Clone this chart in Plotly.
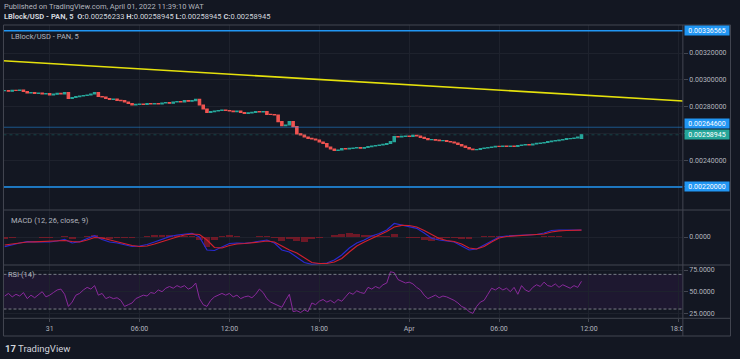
import plotly.graph_objects as go
import pandas as pd

W, H = 740, 359

# ---------------- data ----------------
close = [
    0.0029187, 0.0029149, 0.0029216, 0.0029201, 0.0029239, 0.0029127, 0.0029015, 0.0029052, 0.0028993, 0.0029015,
    0.0028940, 0.0028978, 0.0028866, 0.0028925, 0.0028993, 0.0028955, 0.0029037, 0.0028619, 0.0028679, 0.0028739,
    0.0028791, 0.0028828, 0.0028866, 0.0028940, 0.0029037, 0.0028754, 0.0028716, 0.0028604, 0.0028545, 0.0028567,
    0.0028470, 0.0028440, 0.0028343, 0.0028231, 0.0028119, 0.0028172, 0.0028194, 0.0028157, 0.0028216, 0.0028194,
    0.0028231, 0.0028194, 0.0028269, 0.0028291, 0.0028254, 0.0028343, 0.0028366, 0.0028343, 0.0028440, 0.0028403,
    0.0028440, 0.0028545, 0.0028119, 0.0027821, 0.0027560, 0.0027619, 0.0027672, 0.0027709, 0.0027746, 0.0027709,
    0.0027672, 0.0027619, 0.0027657, 0.0027560, 0.0027500, 0.0027537, 0.0027575, 0.0027634, 0.0027597, 0.0027619,
    0.0027425, 0.0027410, 0.0027373, 0.0026873, 0.0026575, 0.0026627, 0.0026873, 0.0026500, 0.0025970, 0.0025880,
    0.0025731, 0.0025634, 0.0025582, 0.0025507, 0.0025358, 0.0025246, 0.0024985, 0.0024836, 0.0024724, 0.0024761,
    0.0024873, 0.0024836, 0.0024888, 0.0024910, 0.0024933, 0.0024895, 0.0024948, 0.0025007, 0.0025060, 0.0025097,
    0.0025134, 0.0025186, 0.0025246, 0.0025380, 0.0025769, 0.0025746, 0.0025783, 0.0025806, 0.0025783, 0.0025858,
    0.0025806, 0.0025709, 0.0025619, 0.0025530, 0.0025545, 0.0025492, 0.0025455, 0.0025470, 0.0025395, 0.0025358,
    0.0025283, 0.0025171, 0.0025060, 0.0024948, 0.0024836, 0.0024783, 0.0024798, 0.0024873, 0.0024910, 0.0024948,
    0.0024985, 0.0025037, 0.0025022, 0.0025060, 0.0025022, 0.0025060, 0.0025037, 0.0025097, 0.0025134, 0.0025157,
    0.0025134, 0.0025209, 0.0025261, 0.0025283, 0.0025321, 0.0025380, 0.0025433, 0.0025455, 0.0025507, 0.0025545,
    0.0025604, 0.0025619, 0.0025657, 0.0025731, 0.00258945,
]
last_open = 0.00256233
last_close = 0.00258945

rsi = [
    45, 48, 44, 47, 45, 49, 42, 46, 43, 47,
    50, 44, 46, 49, 52, 53, 47, 33, 38, 46,
    48, 52, 55, 53, 57, 46, 48, 42, 44, 42,
    43, 40, 33, 35, 37, 42, 44, 46, 45, 49,
    48, 52, 50, 54, 56, 54, 57, 55, 57, 53,
    55, 60, 42, 35, 33, 40, 44, 46, 48, 46,
    48, 44, 46, 42, 44, 45, 43, 47, 53, 49,
    42, 38, 36, 34, 32, 40, 47, 27, 28, 26,
    29, 27, 37, 35, 39, 41, 38, 40, 37, 41,
    39, 44, 49, 47, 51, 49, 48, 55, 53, 56,
    54, 58, 60, 73, 72, 64, 62, 60, 61, 59,
    55, 52, 46, 42, 44, 46, 43, 45, 44, 42,
    40, 37, 33, 31, 27, 25, 33, 38, 40, 47,
    54, 52, 55, 52, 54, 50, 55, 47, 57, 52,
    50, 55, 58, 56, 61, 57, 56, 59, 55, 58,
    56, 54, 57, 55, 62,
]

macd = [
    -9.7e-6, -7.5e-6, -6.0e-6, -4.7e-6, -5.0e-6, -5.3e-6, -5.0e-6, -4.0e-6, -2.5e-6, -6.0e-6,
    -4.7e-6, -1.5e-6, 1.3e-6, -2.5e-6, -5.0e-6, -6.0e-6, -7.5e-6, -9.5e-6, -9.0e-6, -7.5e-6,
    -5.0e-6, -2.5e-6, 0.3e-6, 2.0e-6, 3.0e-6, 3.7e-6, 0.0, -13.0e-6, -13.5e-6, -10.0e-6,
    -6.5e-6, -6.0e-6, -6.3e-6, -5.5e-6, -4.0e-6, -3.0e-6, -6.0e-6, -13.0e-6, -15.0e-6, -20.0e-6,
    -25.5e-6, -27.3e-6, -27.0e-6, -26.0e-6, -23.0e-6, -18.0e-6, -11.0e-6, -6.0e-6, -3.0e-6, 1.0e-6,
    3.5e-6, 7.0e-6, 13.5e-6, 12.0e-6, 10.5e-6, 8.7e-6, 4.0e-6, -1.3e-6, -3.0e-6, -4.0e-6,
    -5.0e-6, -9.0e-6, -13.0e-6, -12.0e-6, -8.0e-6, -4.0e-6, 0.0, 1.0e-6, 1.3e-6, 1.5e-6,
    2.0e-6, 2.5e-6, 4.0e-6, 6.5e-6, 7.0e-6, 7.0e-6, 7.0e-6, 7.0e-6,
]
signal = [
    -8.0e-6, -7.0e-6, -6.0e-6, -5.0e-6, -4.8e-6, -4.5e-6, -4.5e-6, -4.2e-6, -3.5e-6, -4.5e-6,
    -5.0e-6, -3.0e-6, -0.5e-6, -1.0e-6, -3.0e-6, -5.0e-6, -6.5e-6, -8.5e-6, -9.5e-6, -9.0e-6,
    -7.0e-6, -4.5e-6, -2.0e-6, 0.0, 2.0e-6, 3.0e-6, 2.5e-6, -3.0e-6, -10.5e-6, -11.0e-6,
    -8.5e-6, -7.0e-6, -6.5e-6, -6.0e-6, -5.0e-6, -4.0e-6, -5.0e-6, -9.0e-6, -13.0e-6, -16.0e-6,
    -21.0e-6, -25.5e-6, -26.5e-6, -26.5e-6, -25.0e-6, -21.5e-6, -15.0e-6, -9.0e-6, -5.0e-6, -1.5e-6,
    2.0e-6, 5.5e-6, 10.0e-6, 11.7e-6, 11.5e-6, 10.0e-6, 6.5e-6, 2.5e-6, -1.5e-6, -3.5e-6,
    -4.5e-6, -7.0e-6, -11.0e-6, -12.0e-6, -9.5e-6, -5.0e-6, -1.0e-6, 0.5e-6, 1.0e-6, 1.2e-6,
    1.5e-6, 2.0e-6, 3.0e-6, 5.0e-6, 6.2e-6, 6.5e-6, 6.7e-6, 6.8e-6,
]

levels_blue = [0.00336565, 0.00220000]
level_mid = 0.00264600
trend_t = ["2022-03-30 20:00", "2022-04-01 20:00"]
trend_p = [0.0031484, 0.0028302]

price_ticks = [0.0022, 0.0024, 0.0026, 0.0028, 0.0030, 0.0032]
time_ticks = ["2022-03-31 00:00", "2022-03-31 06:00", "2022-03-31 12:00", "2022-03-31 18:00",
              "2022-04-01 00:00", "2022-04-01 06:00", "2022-04-01 12:00", "2022-04-01 18:00"]
time_labels = ["31", "06:00", "12:00", "18:00", "Apr", "06:00", "12:00", "18:00"]

# ---------------- derived ----------------
t_price = pd.date_range("2022-03-30 21:00", periods=len(close), freq="15min")
t_macd = pd.date_range("2022-03-30 21:00", periods=len(macd), freq="30min")
opens = [close[0]] + close[:-1]
opens[-1] = last_open
highs = [max(o, c) for o, c in zip(opens, close)]
lows = [min(o, c) for o, c in zip(opens, close)]
hist = [m - s for m, s in zip(macd, signal)]

# ---------------- style ----------------
BG = "#131722"
GRID = "#1e222d"
FRAME = "#434651"
TXT = "#b2b5be"
UP = "#26a69a"
DOWN = "#ef5350"
BLUE = "#2196f3"
FONT = "Roboto"

def px(x):
    return x / W

def py(y):
    return 1 - y / H

XL, XR = 3.5, 687.5
xdom = [px(XL), px(XR)]
y1 = [py(210), py(25)]
y2 = [py(265), py(210)]
y3 = [py(318.3), py(265)]
xrange_ = ["2022-03-30 20:55", "2022-04-01 18:16"]

fig = go.Figure()
fig.add_trace(go.Candlestick(
    x=t_price, open=opens, high=highs, low=lows, close=close,
    increasing=dict(line=dict(color=UP, width=1.2), fillcolor=UP),
    decreasing=dict(line=dict(color=DOWN, width=1.2), fillcolor=DOWN),
    xaxis="x", yaxis="y", hoverinfo="skip", showlegend=False))
fig.add_trace(go.Scatter(x=trend_t, y=trend_p, mode="lines",
                         line=dict(color="#e5e10c", width=1.6),
                         xaxis="x", yaxis="y", hoverinfo="skip", showlegend=False))

fig.add_trace(go.Bar(x=t_macd, y=hist, width=27 * 60 * 1000,
                     marker=dict(color="rgba(150,25,40,0.7)", line=dict(width=0)),
                     xaxis="x2", yaxis="y2", hoverinfo="skip", showlegend=False))
fig.add_trace(go.Scatter(x=t_macd, y=macd, mode="lines", line=dict(color="#2a2ad0", width=1.2),
                         xaxis="x2", yaxis="y2", hoverinfo="skip", showlegend=False))
fig.add_trace(go.Scatter(x=t_macd, y=signal, mode="lines", line=dict(color="#d0202e", width=1.2),
                         xaxis="x2", yaxis="y2", hoverinfo="skip", showlegend=False))

fig.add_trace(go.Scatter(x=t_price, y=rsi, mode="lines", line=dict(color="#8a2a9c", width=1),
                         xaxis="x3", yaxis="y3", hoverinfo="skip", showlegend=False))

xcommon = dict(domain=xdom, range=xrange_, tickvals=time_ticks, showgrid=True, gridcolor=GRID,
               gridwidth=1, zeroline=False, showline=False, type="date")
ycommon = dict(side="right", showgrid=True, gridcolor=GRID, zeroline=False, showline=False,
               ticks="outside", ticklen=4, tickcolor=FRAME,
               tickfont=dict(family=FONT, size=7, color=TXT))

shapes = []
shapes.append(dict(type="rect", xref="paper", yref="y3", x0=px(XL), x1=px(XR), y0=30, y1=70,
                   fillcolor="rgba(126,40,160,0.11)", line=dict(width=0), layer="below"))
for v in (70, 30):
    shapes.append(dict(type="line", xref="paper", yref="y3", x0=px(XL), x1=px(XR), y0=v, y1=v,
                       line=dict(color="#787b86", width=1, dash="3px,2px")))
for v in levels_blue:
    shapes.append(dict(type="line", xref="paper", yref="y", x0=px(XL), x1=px(XR), y0=v, y1=v,
                       line=dict(color=BLUE, width=1.5)))
shapes.append(dict(type="line", xref="paper", yref="y", x0=px(XL), x1=px(XR), y0=level_mid, y1=level_mid,
                   line=dict(color="rgba(33,150,243,0.5)", width=1)))
shapes.append(dict(type="line", xref="paper", yref="y", x0=px(XL), x1=px(XR), y0=last_close, y1=last_close,
                   line=dict(color="rgba(38,166,154,0.3)", width=1, dash="dot")))
shapes.append(dict(type="rect", xref="paper", yref="paper", x0=px(XR), x1=px(736), y0=py(336), y1=py(318.8),
                   fillcolor=BG, line=dict(width=0), layer="above"))
shapes.append(dict(type="rect", xref="paper", yref="paper", x0=px(XL), x1=px(735.5), y0=py(336), y1=py(25),
                   line=dict(color=FRAME, width=1), layer="above"))
for yy in (210, 265, 318.3):
    shapes.append(dict(type="line", xref="paper", yref="paper", x0=px(XL), x1=px(735.5), y0=py(yy), y1=py(yy),
                       line=dict(color=FRAME, width=1), layer="above"))
shapes.append(dict(type="line", xref="paper", yref="paper", x0=px(XR), x1=px(XR), y0=py(336), y1=py(25),
                   line=dict(color=FRAME, width=1), layer="above"))

ann = []
def label(text, x, y, size=7.5, color=TXT):
    ann.append(dict(text=text, xref="paper", yref="paper", x=px(x), y=py(y), xanchor="left",
                    yanchor="middle", showarrow=False, font=dict(family=FONT, size=size, color=color)))

label("Published on TradingView.com, April 01, 2022 11:39:10 WAT", 2.5, 6.5, 7.5, "#b2b5be")
label("<b>LBlock/USD - PAN, 5</b>  <b>O:</b>0.00256233 <b>H:</b>0.00258945 <b>L:</b>0.00258945 "
      "<b>C:</b>0.00258945", 2.5, 17, 7.5, "#d1d4dc")
label("LBlock/USD - PAN, 5", 9, 36, 7.5, TXT)
label("MACD (12, 26, close, 9)", 9, 220.5, 7.5, TXT)
label("RSI (14)", 6.5, 274.5, 7.5, TXT)
label("<b>17</b> TradingView", 3, 348, 9.5, "#d1d4dc")

def pricebox(v, color, yshift=0):
    ann.append(dict(text=f"{v:.8f}", xref="paper", yref="y", x=px(688.5), y=v, xanchor="left",
                    yanchor="middle", showarrow=False, bgcolor=color, width=44, height=9,
                    borderpad=0, yshift=yshift, align="center",
                    font=dict(family=FONT, size=7, color="#ffffff")))

pricebox(levels_blue[0], BLUE)
pricebox(level_mid, BLUE, yshift=4)
pricebox(last_close, UP)
pricebox(levels_blue[1], BLUE)

fig.update_layout(
    width=W, height=H, margin=dict(l=0, r=0, t=0, b=0),
    paper_bgcolor=BG, plot_bgcolor=BG, showlegend=False, bargap=0, boxgap=0.1,
    xaxis=dict(xcommon, anchor="y", showticklabels=False, rangeslider=dict(visible=False)),
    xaxis2=dict(xcommon, anchor="y2", matches="x", showticklabels=False),
    xaxis3=dict(xcommon, anchor="y3", matches="x", showticklabels=True, ticktext=time_labels,
                ticks="outside", ticklen=3, tickcolor=FRAME,
                tickfont=dict(family=FONT, size=7, color=TXT)),
    yaxis=dict(ycommon, domain=y1, anchor="x", range=[0.00202831, 0.00340896],
               tickvals=price_ticks, tickformat=".8f"),
    yaxis2=dict(ycommon, domain=y2, anchor="x2", range=[-2.8e-5, 2.7e-5],
                tickvals=[0], ticktext=["0.0000"]),
    yaxis3=dict(ycommon, domain=y3, anchor="x3", range=[19.3, 80.8],
                tickvals=[25, 50, 75], tickformat=".4f"),
    shapes=shapes, annotations=ann,
)

fig.write_html("out.html", config={"displayModeBar": False, "staticPlot": True}, post_script=(
    "document.body.style.margin='0';document.body.style.padding='0';"
    "document.body.style.overflow='hidden';document.body.style.background='#131722';"))
